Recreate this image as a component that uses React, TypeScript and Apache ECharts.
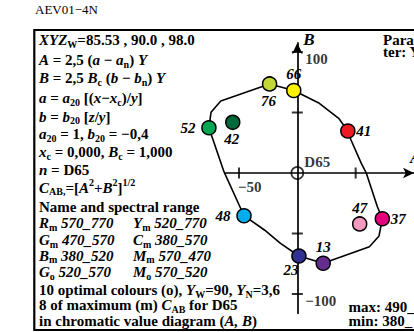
import React, { useEffect, useRef } from "react";
import * as echarts from "echarts";

const SERIF = '"Liberation Serif", "Times New Roman", serif';

// Optimal (o) and maximum (m) colours in the (A, B) chromatic value diagram
const colourNames = ["76", "66", "41", "37", "13", "23", "48", "52", "42", "47"];
const colourA = [-23.1, -2.5, 43.6, 73.0, 22.6, 1.9, -44.9, -74.8, -54.5, 53.7];
const colourB = [73.6, 68.2, 34.7, -37.8, -74.6, -68.6, -35.3, 37.4, 41.9, -42.1];
const colourFill = [
  "#c3d834", "#fff200", "#ed1c24", "#e6007e", "#662d91",
  "#2e3192", "#00aeef", "#00a651", "#00693b", "#f49ac1",
];
const colourLabelSide = ["below", "above", "right", "right", "above", "belowLeft", "left", "left", "below", "above"];

// Boundary of the optimal colours, walked clockwise from colour 52
const boundaryA = [-74.8, -73.0, -64.7, -23.1, -2.5, 19.3, 35.8, 43.6, 46.3, 55.1, 59.3, 68.8, 73.0, 70.2, 62.0, 22.6, 1.9, -13.8, -27.5, -44.9, -62.0, -74.8];
const boundaryB = [37.4, 50.2, 59.5, 73.6, 68.2, 57.6, 45.2, 34.7, 27.3, 8.0, 0.0, -27.9, -37.8, -52.0, -60.9, -74.6, -68.6, -58.1, -47.1, -35.3, 1.1, 37.4];

// Axis ticks (drawn across the axes) and their labels
const xTickValues = [-50, 50];
const xTickLabels = ["−50", ""];
const yTickValues = [100, 50, -50, -100];
const yTickLabels = ["100", "", "", "−100"];

// Legend text, one row per entry: [style, text]
type Seg = [string, string];
const textRows: Seg[][] = [
  [["bi", "XYZ"], ["sub", "W"], ["b", "=85.53 , 90.0 , 98.0"]],
  [["bi", "A"], ["b", " = 2,5 ("], ["bi", "a"], ["b", " − "], ["bi", "a"], ["sub", "n"], ["b", ") "], ["bi", "Y"]],
  [["bi", "B"], ["b", " = 2,5 "], ["bi", "B"], ["sub", "c"], ["b", " ("], ["bi", "b"], ["b", " − "], ["bi", "b"], ["sub", "n"], ["b", ") "], ["bi", "Y"]],
  [["bi", "a"], ["b", " = "], ["bi", "a"], ["sub", "20"], ["b", " [("], ["bi", "x"], ["b", "−"], ["bi", "x"], ["sub", "c"], ["b", ")/"], ["bi", "y"], ["b", "]"]],
  [["bi", "b"], ["b", " = "], ["bi", "b"], ["sub", "20"], ["b", " ["], ["bi", "z"], ["b", "/"], ["bi", "y"], ["b", "]"]],
  [["bi", "a"], ["sub", "20"], ["b", " = 1, "], ["bi", "b"], ["sub", "20"], ["b", " = −0,4"]],
  [["bi", "x"], ["sub", "c"], ["b", " = 0,000, "], ["bi", "B"], ["sub", "c"], ["b", " = 1,000"]],
  [["bi", "n"], ["b", " = D65"]],
  [["bi", "C"], ["sub", "AB,"], ["b", "=["], ["bi", "A"], ["sup", "2"], ["b", "+"], ["bi", "B"], ["sup", "2"], ["b", "]"], ["sup", "1/2"]],
  [["b", "Name and spectral range"]],
  [["bi", "R"], ["sub", "m"], ["bi", " 570_770"]],
  [["bi", "G"], ["sub", "m"], ["bi", " 470_570"]],
  [["bi", "B"], ["sub", "m"], ["bi", " 380_520"]],
  [["bi", "G"], ["sub", "o"], ["bi", " 520_570"]],
  [["b", "10 optimal colours (o), "], ["bi", "Y"], ["sub", "W"], ["b", "=90, "], ["bi", "Y"], ["sub", "N"], ["b", "=3,6"]],
  [["b", "8 of maximum (m) "], ["bi", "C"], ["sub", "AB"], ["b", " for D65"]],
  [["b", "in chromatic value diagram ("], ["bi", "A, B"], ["b", ")"]],
];
const textRowsCol2: Seg[][] = [
  [["bi", "Y"], ["sub", "m"], ["bi", " 520_770"]],
  [["bi", "C"], ["sub", "m"], ["bi", " 380_570"]],
  [["bi", "M"], ["sub", "m"], ["bi", " 570_470"]],
  [["bi", "M"], ["sub", "o"], ["bi", " 570_520"]],
];

const rowY = [40, 60, 78.3, 98.3, 116.7, 134.3, 152.3, 170, 187.7, 206.7, 223.3, 240, 255.7, 272.3, 290, 305, 320.7];

const rich = {
  b: { fontFamily: SERIF, fontSize: 15, fontWeight: "bold", fill: "#000", lineHeight: 13 },
  bi: { fontFamily: SERIF, fontSize: 15, fontWeight: "bold", fontStyle: "italic", fill: "#000", lineHeight: 13 },
  sub: { fontFamily: SERIF, fontSize: 10, fontWeight: "bold", fill: "#000", lineHeight: 8, padding: [8, 0, 0, 0] },
  sup: { fontFamily: SERIF, fontSize: 10, fontWeight: "bold", fill: "#000", lineHeight: 8, padding: [0, 0, 10, 0] },
};

const toRich = (segs: Seg[]) => segs.map(([s, t]) => `{${s}|${t}}`).join("");

const labelPlacement: Record<string, { align: string; offset: number[] }> = {
  below: { align: "center", offset: [-1, 17] },
  above: { align: "center", offset: [0, -16] },
  right: { align: "left", offset: [8.5, 0] },
  left: { align: "right", offset: [-13.5, 0] },
  belowLeft: { align: "center", offset: [-8, 14] },
};

const labelFont = { fontFamily: SERIF, fontSize: 15, fontWeight: "bold" as const, color: "#000" };

// Both grids share one scale (1.21 px per unit, origin at 300/173);
// grid 0 carries the visible axes, grid 1 the data with a wider A range.
const PX = 1.21;
const ORIGIN_X = 300;
const Y_MIN = -116;
const Y_MAX = 107.5;
const AXIS_A_MIN = -62;
const DATA_A_MIN = -90;
const A_MAX = 100;
const GRID_TOP = 173 - Y_MAX * PX;
const GRID_H = (Y_MAX - Y_MIN) * PX;

const hiddenAxis = {
  axisLine: { show: false },
  axisTick: { show: false },
  axisLabel: { show: false },
  splitLine: { show: false },
};

export default function App() {
  const ref = useRef<HTMLDivElement>(null);

  useEffect(() => {
    if (!ref.current) return;
    const chart = echarts.init(ref.current, undefined, { renderer: "svg" });

    const textEls: any[] = [];
    textRows.forEach((row, i) => {
      textEls.push({
        type: "text",
        x: 39,
        y: rowY[i],
        style: { text: toRich(row), rich, verticalAlign: "middle", align: "left" },
      });
    });
    textRowsCol2.forEach((row, i) => {
      textEls.push({
        type: "text",
        x: 133,
        y: rowY[10 + i],
        style: { text: toRich(row), rich, verticalAlign: "middle", align: "left" },
      });
    });
    const plain = (text: string, x: number, y: number, font: string, lineHeight?: number) => ({
      type: "text",
      x,
      y,
      style: { text, font, fill: "#000", verticalAlign: "middle", align: "left", lineHeight },
    });

    const axisLine = {
      onZero: true,
      lineStyle: { color: "#000", width: 1.7 },
      symbol: ["none", "arrow"],
      symbolSize: [8, 11],
    };

    const option: any = {
      animation: false,
      backgroundColor: "#fff",
      grid: [
        {
          left: ORIGIN_X + AXIS_A_MIN * PX,
          top: GRID_TOP,
          width: (A_MAX - AXIS_A_MIN) * PX,
          height: GRID_H,
          containLabel: false,
        },
        {
          left: ORIGIN_X + DATA_A_MIN * PX,
          top: GRID_TOP,
          width: (A_MAX - DATA_A_MIN) * PX,
          height: GRID_H,
          containLabel: false,
        },
      ],
      xAxis: [
        {
          gridIndex: 0,
          type: "value",
          min: AXIS_A_MIN,
          max: A_MAX,
          axisLine,
          axisTick: { show: false },
          axisLabel: { show: false },
          splitLine: { show: false },
        },
        { gridIndex: 1, type: "value", min: DATA_A_MIN, max: A_MAX, ...hiddenAxis },
      ],
      yAxis: [
        {
          gridIndex: 0,
          type: "value",
          min: Y_MIN,
          max: Y_MAX,
          name: "B",
          nameLocation: "end",
          nameGap: 3,
          nameTextStyle: {
            fontFamily: SERIF,
            fontSize: 17,
            fontWeight: "bold",
            fontStyle: "italic",
            color: "#000",
            align: "left",
            verticalAlign: "middle",
            padding: [0, 0, 0, 6],
          },
          axisLine,
          axisTick: { show: false },
          axisLabel: { show: false },
          splitLine: { show: false },
        },
        { gridIndex: 1, type: "value", min: Y_MIN, max: Y_MAX, ...hiddenAxis },
      ],
      graphic: [
        plain("AEV01−4N", 35, 9, `13px ${SERIF}`),
        {
          type: "rect",
          shape: { x: 34.3, y: 30, width: 400, height: 300 },
          style: { fill: "none", stroke: "#000", lineWidth: 2.2 },
        },
        ...textEls,
        plain("Para\nter: Y", 383, 46, `bold 15px ${SERIF}`, 12),
        plain("max: 490_\nmin: 380_", 348.5, 313.6, `bold 15px ${SERIF}`, 13.8),
        plain("A", 410, 157, `bold italic 17px ${SERIF}`),
      ],
      series: [
        {
          type: "line",
          xAxisIndex: 1,
          yAxisIndex: 1,
          silent: true,
          clip: false,
          symbol: "none",
          z: 2,
          lineStyle: { color: "#000", width: 1.6 },
          data: boundaryA.map((a, i) => [a, boundaryB[i]]),
        },
        {
          type: "scatter",
          xAxisIndex: 0,
          yAxisIndex: 0,
          silent: true,
          clip: false,
          symbol: "rect",
          symbolSize: [2, 11],
          z: 3,
          itemStyle: { color: "#000" },
          data: xTickValues.map((v, i) => ({
            value: [v, 0],
            label: {
              show: xTickLabels[i] !== "",
              formatter: xTickLabels[i],
              position: "inside",
              align: "left",
              verticalAlign: "middle",
              offset: [-1, 14],
              ...labelFont,
            },
          })),
        },
        {
          type: "scatter",
          xAxisIndex: 0,
          yAxisIndex: 0,
          silent: true,
          clip: false,
          symbol: "rect",
          symbolSize: [11, 2],
          z: 3,
          itemStyle: { color: "#000" },
          data: yTickValues.map((v, i) => ({
            value: [0, v],
            label: {
              show: yTickLabels[i] !== "",
              formatter: yTickLabels[i],
              position: "inside",
              align: "left",
              verticalAlign: "middle",
              offset: [8, 7],
              ...labelFont,
            },
          })),
        },
        {
          type: "scatter",
          xAxisIndex: 0,
          yAxisIndex: 0,
          silent: true,
          clip: false,
          symbol: "circle",
          symbolSize: 12,
          z: 3,
          itemStyle: { color: "rgba(0,0,0,0)", borderColor: "#000", borderWidth: 1.7 },
          data: [
            {
              value: [0, 0],
              label: {
                show: true,
                formatter: "D65",
                position: "inside",
                align: "left",
                verticalAlign: "middle",
                offset: [7, -11],
                ...labelFont,
              },
            },
          ],
        },
        {
          type: "scatter",
          xAxisIndex: 1,
          yAxisIndex: 1,
          silent: true,
          clip: false,
          symbol: "circle",
          symbolSize: 14,
          z: 4,
          data: colourNames.map((name, i) => {
            const p = labelPlacement[colourLabelSide[i]];
            return {
              name,
              value: [colourA[i], colourB[i]],
              itemStyle: { color: colourFill[i], borderColor: "#000", borderWidth: 1.5, opacity: 1 },
              label: {
                show: true,
                formatter: name,
                position: "inside",
                align: p.align,
                verticalAlign: "middle",
                offset: p.offset,
                ...labelFont,
                fontStyle: "italic",
              },
            };
          }),
        },
      ],
    };

    chart.setOption(option);
    return () => chart.dispose();
  }, []);

  return (
    <div
      ref={ref}
      style={{ position: "fixed", left: 0, top: 0, width: 414, height: 332, background: "#fff" }}
    />
  );
}
